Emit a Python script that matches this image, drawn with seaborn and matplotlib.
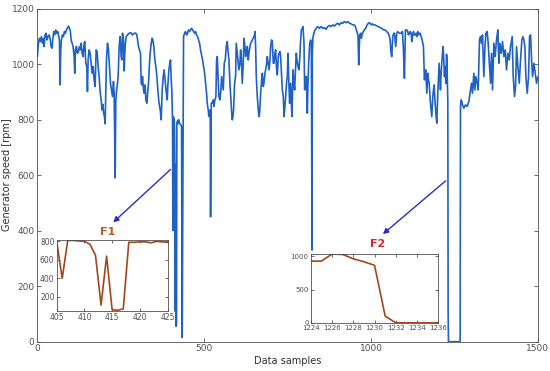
import matplotlib
matplotlib.use("Agg")
import matplotlib.pyplot as plt
import numpy as np
import pandas as pd
import seaborn as sns

# generator speed at key samples
samples = [
    0, 3, 6, 9, 12, 15, 18, 20, 23, 26, 29, 32, 35, 38, 41, 44, 46, 49, 52, 55,
    58, 61, 64, 66, 68, 70, 72, 75, 78, 81, 84, 87, 90, 93, 96, 99, 101, 104, 107, 110,
    112, 114, 117, 120, 123, 126, 129, 131, 134, 137, 140, 142, 145, 148, 150, 152, 155, 158, 161, 164,
    167, 170, 173, 176, 179, 182, 185, 188, 191, 194, 196, 199, 201, 203, 205, 207, 210, 213, 216, 219,
    222, 225, 228, 230, 233, 235, 237, 239, 242, 245, 248, 251, 253, 255, 258, 260, 263, 266, 270, 275,
    280, 285, 290, 295, 298, 300, 303, 306, 309, 311, 313, 315, 318, 320, 323, 325, 328, 330, 333, 336,
    338, 341, 344, 346, 349, 352, 355, 358, 361, 364, 368, 371, 374, 377, 380, 383, 386, 389, 391, 394,
    397, 399, 401, 403, 404,
    405, 406, 407, 408, 409, 410, 411, 412, 413, 414, 415, 416, 417, 418, 419, 420, 421, 422, 423, 424, 425,
    427, 430, 432, 434, 436, 438, 441, 444, 447, 450, 453, 456, 459, 462, 465, 468, 471, 474, 477, 480,
    483, 486, 489, 492, 495, 498, 500, 502, 504, 507, 509, 512, 514, 516, 518, 519, 521, 524, 527, 529,
    532, 535, 537, 539, 542, 544, 547, 550, 552, 555, 557, 560, 563, 566, 569, 571, 574, 577, 580, 582,
    584, 586, 588, 591, 594, 596, 599, 601, 604, 607, 609, 611, 614, 617, 619, 622, 624, 627, 629, 632,
    634, 637, 639, 642, 644, 647, 649, 651, 652, 654, 656, 659, 662, 664, 666, 669, 672, 674, 677, 679,
    682, 684, 687, 689, 692, 694, 697, 699, 702, 704, 707, 709, 712, 714, 717, 719, 722, 724, 727, 729,
    732, 734, 737, 739, 741, 744, 747, 749, 751, 754, 756, 759, 761, 763, 766, 768, 771, 773, 776, 778,
    781, 784, 786, 789, 791, 794, 796, 799, 801, 803, 806, 809, 811, 813, 816, 819, 821, 823, 824, 826,
    829, 832, 836, 840, 845, 850, 855, 860, 865, 870, 875, 880, 885, 890, 895, 900, 905, 910, 915, 920,
    925, 930, 935, 940, 945, 950, 953, 956, 959, 961, 963, 966, 969, 971, 974, 977, 980, 984, 988, 992,
    996, 1000, 1004, 1007, 1012, 1017, 1022, 1027, 1032, 1037, 1042, 1047, 1052, 1055, 1057, 1060, 1062, 1065, 1068, 1070,
    1074, 1077, 1080, 1085, 1090, 1094, 1097, 1100, 1103, 1107, 1110, 1112, 1115, 1117, 1120, 1122, 1124, 1127, 1129, 1132,
    1135, 1137, 1140, 1142, 1145, 1147, 1150, 1152, 1155, 1157, 1160, 1162, 1164, 1167, 1170, 1172, 1174, 1178, 1182, 1185,
    1187, 1189, 1192, 1195, 1197, 1200, 1204, 1206, 1208, 1210, 1212, 1214, 1216, 1218, 1220, 1222,
    1224, 1225, 1226, 1227, 1228, 1229, 1230, 1231, 1232, 1233, 1234, 1235, 1236,
    1240, 1250, 1260, 1267, 1268, 1270, 1272, 1274, 1278, 1283, 1288, 1293, 1298, 1301, 1304, 1308, 1311, 1314, 1318, 1321,
    1325, 1328, 1331, 1334, 1338, 1341, 1344, 1348, 1351, 1354, 1358, 1361, 1364, 1368, 1372, 1376, 1380, 1383, 1386, 1390,
    1394, 1398, 1402, 1406, 1410, 1414, 1418, 1423, 1426, 1430, 1433, 1436, 1440, 1444, 1448, 1452, 1455, 1458, 1461, 1464,
    1468, 1472, 1475, 1478, 1481, 1484, 1488, 1492, 1496, 1500,
]
speed = [
    1027, 1075, 1093, 1081, 1099, 1075, 1093, 1063, 1105, 1111, 1087, 1099, 1105, 1093, 1063, 1057, 1087, 1117, 1105, 1123,
    1111, 1117, 1099, 1087, 925, 1051, 1087, 1105, 1099, 1117, 1111, 1123, 1129, 1137, 1129, 1117, 1087, 1075, 1063, 1027,
    967, 1051, 1063, 1039, 1045, 1063, 1051, 1075, 1039, 1027, 1075, 1081, 1003, 991, 901, 1015, 1051, 1039, 1003, 967,
    991, 943, 919, 1051, 1045, 991, 955, 901, 871, 835, 855, 820, 810, 785, 900, 1015, 1075, 1051, 991, 931,
    907, 883, 937, 895, 590, 865, 901, 919, 955, 1063, 1099, 1027, 1015, 1111, 1087, 975, 1063, 1099, 1105, 1111,
    1113, 1105, 1111, 1111, 1105, 1087, 1063, 1051, 1039, 931, 925, 955, 907, 895, 925, 871, 859, 890, 931, 1003,
    1039, 1075, 1093, 1087, 1063, 1015, 991, 955, 907, 865, 835, 799, 907, 955, 979, 937, 901, 871, 925, 979,
    1003, 1015, 943, 901, 850,
    800, 400, 810, 810, 805, 800, 770, 650, 110, 640, 60, 55, 70, 790, 790, 795, 795, 785, 800, 795, 790,
    785, 780, 775, 15, 600, 1099, 1111, 1117, 1105, 1111, 1123, 1117, 1123, 1129, 1123, 1117, 1111, 1117, 1105, 1099,
    1087, 1075, 1051, 1033, 1015, 991, 979, 955, 931, 895, 859, 835, 811, 823, 835, 450, 859, 859, 871, 847,
    871, 883, 1015, 1027, 943, 883, 871, 907, 955, 925, 907, 1003, 1015, 1063, 1081, 1051, 1015, 931, 871, 829,
    799, 811, 835, 931, 955, 1075, 1039, 1015, 979, 1003, 1051, 1027, 931, 1003, 1093, 1063, 1027, 1051, 1063, 1015,
    1039, 1063, 1075, 1081, 1087, 1093, 1099, 1105, 1117, 1063, 955, 883, 835, 811, 823, 895, 943, 967, 919, 931,
    967, 979, 1003, 1027, 997, 979, 1015, 1063, 1087, 1081, 1003, 1003, 1039, 1051, 979, 961, 1027, 1039, 1045, 1027,
    955, 907, 883, 811, 835, 883, 937, 955, 1039, 919, 859, 931, 859, 811, 979, 943, 907, 967, 1039, 1015,
    991, 979, 1015, 1087, 1123, 1129, 1135, 1075, 907, 955, 955, 823, 931, 1003, 1075, 1087, 1075, 330, 1040, 1099,
    1111, 1123, 1129, 1135, 1129, 1135, 1129, 1131, 1125, 1135, 1139, 1135, 1141, 1137, 1143, 1147, 1141, 1149, 1147, 1153,
    1149, 1153, 1147, 1145, 1141, 1141, 1135, 1123, 1111, 1100, 997, 1105, 1111, 1093, 1111, 1117, 1123, 1129, 1141, 1147,
    1149, 1141, 1145, 1141, 1141, 1137, 1135, 1131, 1129, 1123, 1123, 1117, 1111, 1099, 1087, 1039, 1027, 1099, 1111, 1111,
    1063, 1111, 1117, 1111, 1111, 1117, 1051, 949, 1123, 1123, 1117, 1105, 1111, 1117, 1111, 1081, 1099, 1117, 1105, 1105,
    1111, 1099, 1117, 1105, 1111, 1111, 1099, 1093, 1075, 1063, 943, 967, 979, 895, 967, 943, 931, 859, 811, 883,
    907, 925, 859, 811, 787, 895, 1003, 955, 907, 967, 1003, 1039, 1063, 1015, 955, 991,
    930, 930, 1035, 1030, 965, 920, 866, 100, 0, 0, 0, 0, 0,
    0, 0, 0, 0, 847, 871, 865, 853, 841, 853, 847, 865, 907, 931, 895, 967, 907, 955, 931, 907,
    1087, 1099, 1075, 1105, 955, 1051, 1111, 1117, 1075, 1015, 931, 1039, 907, 1075, 1027, 1087, 1123, 1003, 1075, 1039,
    1081, 1027, 1051, 979, 1039, 1015, 1063, 1099, 955, 883, 919, 1063, 991, 931, 1015, 1087, 1099, 1087, 1063, 955,
    895, 955, 1099, 1105, 1015, 955, 1003, 967, 931, 955,
]

df = pd.DataFrame({"sample": samples, "speed": speed})
f1 = df[(df["sample"] >= 405) & (df["sample"] <= 425)]
f2 = df[(df["sample"] >= 1224) & (df["sample"] <= 1236)]

sns.set_theme(style="ticks")
plt.rcParams["font.family"] = ["DejaVu Sans"]
edge = "#505050"
plt.rcParams.update({
    "axes.edgecolor": edge, "xtick.color": edge, "ytick.color": edge,
    "axes.labelcolor": "#303030", "axes.linewidth": 0.6,
    "xtick.direction": "in", "ytick.direction": "in",
    "xtick.major.width": 0.6, "ytick.major.width": 0.6,
})

fig = plt.figure(figsize=(5.5, 3.71), dpi=100)
ax = fig.add_axes([0.068, 0.079, 0.910, 0.898])
sns.lineplot(data=df, x="sample", y="speed", color="#2062c4", linewidth=1.2,
             estimator=None, sort=False, ax=ax)
ax.set_xlim(0, 1500)
ax.set_ylim(0, 1200)
ax.set_xticks([0, 500, 1000, 1500])
ax.set_yticks(range(0, 1201, 200))
ax.tick_params(labelsize=6.5, length=3, top=True, right=True, pad=2)
ax.set_xlabel("Data samples", fontsize=7, labelpad=2)
ax.set_ylabel("Generator speed [rpm]", fontsize=7)
ax.yaxis.set_label_coords(-0.05, 0.5)

arrow = dict(arrowstyle="-|>", color="#2a2ad0", lw=1.0, mutation_scale=8)
ax.annotate("", xy=(221, 423), xytext=(405, 627), arrowprops=arrow)
ax.annotate("", xy=(1029, 381), xytext=(1230, 586), arrowprops=arrow)
ax.text(210, 396, "F1", color="#c0591c", fontsize=8, fontweight="bold",
        ha="center", va="center")
ax.text(1021, 352, "F2", color="#d7262b", fontsize=8, fontweight="bold",
        ha="center", va="center")

inset_color = "#a4461c"

ax1 = fig.add_axes([0.103, 0.1625, 0.2018, 0.1906])
sns.lineplot(data=f1, x="sample", y="speed", color=inset_color, linewidth=1.2,
             estimator=None, sort=False, ax=ax1)
ax1.set_xlim(405, 425)
ax1.set_ylim(50, 815)
ax1.set_xticks([405, 410, 415, 420, 425])
ax1.set_yticks([200, 400, 600, 800])
ax1.tick_params(labelsize=5.5, length=2, top=True, right=True, pad=1.5)
ax1.set_xlabel("")
ax1.set_ylabel("")

ax2 = fig.add_axes([0.565, 0.130, 0.232, 0.185])
sns.lineplot(data=f2, x="sample", y="speed", color=inset_color, linewidth=1.2,
             estimator=None, sort=False, ax=ax2)
ax2.set_xlim(1224, 1236)
ax2.set_ylim(0, 1035)
ax2.set_xticks(range(1224, 1237, 2))
ax2.set_yticks([0, 500, 1000])
ax2.tick_params(labelsize=5, length=2, top=True, right=True, pad=1.5)
ax2.set_xlabel("")
ax2.set_ylabel("")

fig.savefig("out.png", dpi=100)
